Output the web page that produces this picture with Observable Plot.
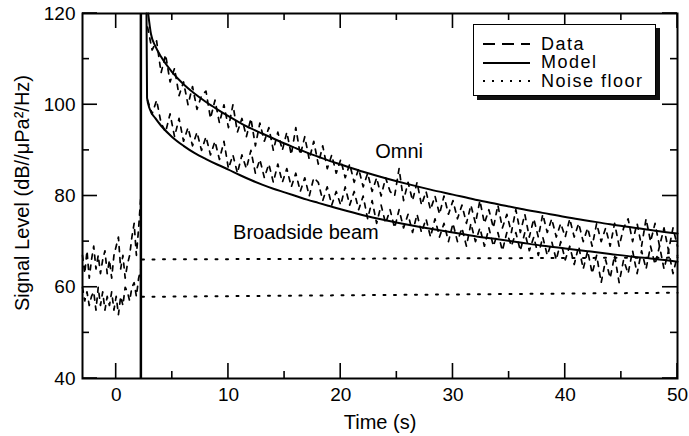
<!DOCTYPE html>
<html>
<head>
<meta charset="utf-8">
<script src="https://cdn.jsdelivr.net/npm/d3@7"></script>
<script src="https://cdn.jsdelivr.net/npm/@observablehq/plot@0.6"></script>
<style>
  body { margin: 0; background: #fff; }
  #wrap { position: relative; width: 689px; height: 436px; font-family: "Liberation Sans", Arial, sans-serif; }
  #legend { position: absolute; left: 473px; top: 24px; width: 181px; height: 70px; border: 1.6px solid #000; background: #fff; box-shadow: 4px 4px 0 #111; }
  .row { position: absolute; left: 0; height: 17px; display: flex; align-items: center; }
  .row svg { margin-left: 9px; margin-right: 11px; }
  .row span { font-size: 18px; line-height: 17px; letter-spacing: 1.5px; color: #000; }
</style>
</head>
<body>
<div id="wrap"><div id="legend"></div></div>
<script>
// ---- tick values ----
const xMajor = [0, 10, 20, 30, 40, 50];
const xMinor = [5, 15, 25, 35, 45];
const yMajor = [40, 60, 80, 100, 120];
const yMinor = [50, 70, 90, 110];

// ---- pre-event samples (s) ----
const preTime = [-3.0,-2.8,-2.6,-2.4,-2.2,-2.0,-1.8,-1.6,-1.4,-1.2,-1.0,-0.8,-0.6,-0.4,-0.2,0.0,0.2,0.4,0.6,0.8,1.0,1.2,1.4,1.6,1.8,2.0,2.2];
const preOmni = [67,63,68,62,66,69,64,67,63,66,68,63,66,62,67,69,71,64,67,62,65,67,71,74,67,73,80];
const preBroadside = [60,57,59,56,58,59,55,60,56,59,55,58,56,59,55,58,54,58,56,60,59,57,60,61,58,62,64];

// ---- post-event samples (s) ----
const postTime = [2.8,3.2,3.6,4.0,4.4,4.8,5.2,5.6,6.0,6.4,6.8,7.2,7.6,8.0,8.4,8.8,9.2,9.6,10.0,10.4,10.8,11.2,11.6,12.0,12.4,12.8,13.2,13.6,14.0,14.4,14.8,15.2,15.6,16.0,16.4,16.8,17.2,17.6,18.0,18.4,18.8,19.2,19.6,20.0,20.4,20.8,21.2,21.6,22.0,22.4,22.8,23.2,23.6,24.0,24.4,24.8,25.2,25.6,26.0,26.4,26.8,27.2,27.6,28.0,28.4,28.8,29.2,29.6,30.0,30.4,30.8,31.2,31.6,32.0,32.4,32.8,33.2,33.6,34.0,34.4,34.8,35.2,35.6,36.0,36.4,36.8,37.2,37.6,38.0,38.4,38.8,39.2,39.6,40.0,40.4,40.8,41.2,41.6,42.0,42.4,42.8,43.2,43.6,44.0,44.4,44.8,45.2,45.6,46.0,46.4,46.8,47.2,47.6,48.0,48.4,48.8,49.2,49.6,50.0];
const omniData = [117,112,114,107,111,105,108,102,105,100,
  104,99,102,103,97,101,96,100,95,100,
  94,97,93,97,91,96,92,95,90,94,
  90,94,89,95,89,93,88,92,87,91,
  86,89,85,88,84,87,83,86,82,85,
  81,84,80,84,81,80,86,79,83,79,
  83,78,81,77,80,76,80,76,79,75,
  78,74,78,74,79,74,77,73,78,73,
  76,72,77,72,76,71,75,71,76,72,
  75,71,74,71,75,71,74,70,73,69,
  74,70,73,69,74,69,73,75,70,74,
  69,75,70,74,69,73,68,73,69];
const broadsideData = [101,98,101,96,94,98,93,97,92,95,
  91,94,90,93,89,92,88,92,86,89,
  85,89,86,90,85,88,84,87,83,87,
  83,86,82,85,81,84,80,84,83,79,
  82,78,81,78,82,78,81,77,80,75,
  79,74,78,74,77,73,77,73,76,72,
  76,72,75,71,75,71,74,70,74,70,
  73,69,74,70,73,69,73,69,72,68,
  72,69,72,68,72,68,71,67,71,67,
  70,66,70,66,69,65,69,64,68,63,
  67,61,66,62,67,61,66,63,68,63,
  68,64,69,65,69,64,68,63,67];

const omniModelTime = [2.85,3.1,3.5,4,5,6,7,8,9,10,11,12,13,14,15,16,17,18,19,20,22,24,26,28,30,32,34,36,38,40,42,44,46,48,50];
const omniModel = [120,115.5,112.8,110.5,107.1,104.5,102.4,100.6,99.0,97.5,96.1,94.8,93.7,92.6,91.5,90.5,89.5,88.6,87.7,86.9,85.3,83.9,82.6,81.4,80.3,79.2,78.2,77.2,76.3,75.4,74.6,73.8,73.1,72.4,71.8];
const broadsideModelTime = [2.7,2.75,3.0,3.5,4,5,6,7,8,9,10,11,12,13,14,15,16,17,18,19,20,22,24,26,28,30,32,34,36,38,40,42,44,46,48,50];
const broadsideModel = [120,101.5,99.0,97.0,95.4,92.9,91.0,89.4,88.1,86.9,85.8,84.6,83.5,82.5,81.6,80.8,80.0,79.2,78.5,77.8,77.1,75.8,74.7,73.7,72.8,72.0,71.2,70.5,69.8,69.1,68.5,67.9,67.3,66.7,66.2,65.6];

// ---- noise floors and event ----
const noiseTime = [2.3, 50];
const noiseOmni = [66.1, 66.5];
const noiseBroadside = [57.9, 58.8];
const eventTime = [2.2];

// ---- labels ----
const annotations = [
  {label: "Omni", t: 25.2, v: 89.7},
  {label: "Broadside beam", t: 16.9, v: 72.0}
];
const xTitle = "Time (s)";
const yTitle = "Signal Level (dB//\u03bcPa\u00b2/Hz)";
const legendItems = [
  {label: "Data", dash: "12,7"},
  {label: "Model", dash: null},
  {label: "Noise floor", dash: "2,7"}
];

const rows = (ts, vs) => ts.map((t, i) => ({t, v: vs[i]}));

const dataStyle = {x: "t", y: "v", stroke: "#000", strokeWidth: 1.7, strokeDasharray: "5,6"};
const modelStyle = {x: "t", y: "v", stroke: "#000", strokeWidth: 2, curve: "monotone-x"};
const noiseStyle = {x: "t", y: "v", stroke: "#000", strokeWidth: 2, strokeDasharray: "2,8.5"};

const W = 689, H = 436, mL = 82, mR = 12, mT = 13, mB = 58;

const chart = Plot.plot({
  width: W,
  height: H,
  marginLeft: mL,
  marginRight: mR,
  marginTop: mT,
  marginBottom: mB,
  x: {domain: [-3, 50]},
  y: {domain: [40, 120]},
  style: {fontFamily: "'Liberation Sans', Arial, sans-serif", fontSize: "19px", background: "#fff", color: "#000"},
  marks: [
    Plot.ruleX(eventTime, {stroke: "#000", strokeWidth: 2.5}),
    Plot.line(rows(noiseTime, noiseOmni), noiseStyle),
    Plot.line(rows(noiseTime, noiseBroadside), noiseStyle),
    Plot.line(rows(preTime, preOmni), dataStyle),
    Plot.line(rows(preTime, preBroadside), dataStyle),
    Plot.line(rows(postTime, omniData), dataStyle),
    Plot.line(rows(postTime, broadsideData), dataStyle),
    Plot.line(rows(omniModelTime, omniModel), modelStyle),
    Plot.line(rows(broadsideModelTime, broadsideModel), modelStyle),
    Plot.text(annotations, {x: "t", y: "v", text: "label", fontSize: 20, fill: "#000"}),
    Plot.axisX({anchor: "bottom", ticks: xMajor, tickSize: 0, tickPadding: 9, label: null, fontSize: 19}),
    Plot.axisY({anchor: "left", ticks: yMajor, tickSize: 0, tickPadding: 7, label: null, fontSize: 19}),
    Plot.text([xTitle], {frameAnchor: "bottom", dy: 44, lineAnchor: "middle", textAnchor: "middle", fontSize: 20, fill: "#000"}),
    Plot.text([yTitle], {frameAnchor: "left", dx: -60, dy: -3, textAnchor: "middle", lineAnchor: "middle", rotate: -90, fontSize: 20, fill: "#000"}),
    Plot.frame({stroke: "#000", strokeWidth: 2})
  ]
});
document.getElementById("wrap").prepend(chart);

// inward tick marks on all four sides, positioned through the chart's own scales
try {
  const svgEl = chart.tagName.toLowerCase() === "svg" ? chart : chart.querySelector("svg");
  const sx = chart.scale("x"), sy = chart.scale("y");
  const fLeft = mL, fRight = W - mR, fTop = mT, fBottom = H - mB;
  const tg = d3.select(svgEl).append("g").attr("stroke", "#000").attr("stroke-width", 1.6).attr("fill", "none");
  const addX = (vals, len) => vals.forEach((v) => {
    const px = sx.apply(v);
    tg.append("line").attr("x1", px).attr("x2", px).attr("y1", fBottom).attr("y2", fBottom - len);
    tg.append("line").attr("x1", px).attr("x2", px).attr("y1", fTop).attr("y2", fTop + len);
  });
  const addY = (vals, len) => vals.forEach((v) => {
    const py = sy.apply(v);
    tg.append("line").attr("x1", fLeft).attr("x2", fLeft + len).attr("y1", py).attr("y2", py);
    tg.append("line").attr("x1", fRight).attr("x2", fRight - len).attr("y1", py).attr("y2", py);
  });
  addX(xMajor, 15); addX(xMinor, 7);
  addY(yMajor, 15); addY(yMinor, 7);
} catch (e) { console.error(e); }

// legend
const legendBox = document.getElementById("legend");
legendItems.forEach((item, i) => {
  const row = document.createElement("div");
  row.className = "row";
  row.style.top = (10.5 + i * 18.5) + "px";
  const ns = "http://www.w3.org/2000/svg";
  const svg = document.createElementNS(ns, "svg");
  svg.setAttribute("width", 47);
  svg.setAttribute("height", 10);
  const ln = document.createElementNS(ns, "line");
  ln.setAttribute("x1", 0); ln.setAttribute("x2", 47);
  ln.setAttribute("y1", 5); ln.setAttribute("y2", 5);
  ln.setAttribute("stroke", "#000");
  ln.setAttribute("stroke-width", 2);
  if (item.dash) ln.setAttribute("stroke-dasharray", item.dash);
  svg.appendChild(ln);
  const span = document.createElement("span");
  span.textContent = item.label;
  row.appendChild(svg);
  row.appendChild(span);
  legendBox.appendChild(row);
});
</script>
</body>
</html>
